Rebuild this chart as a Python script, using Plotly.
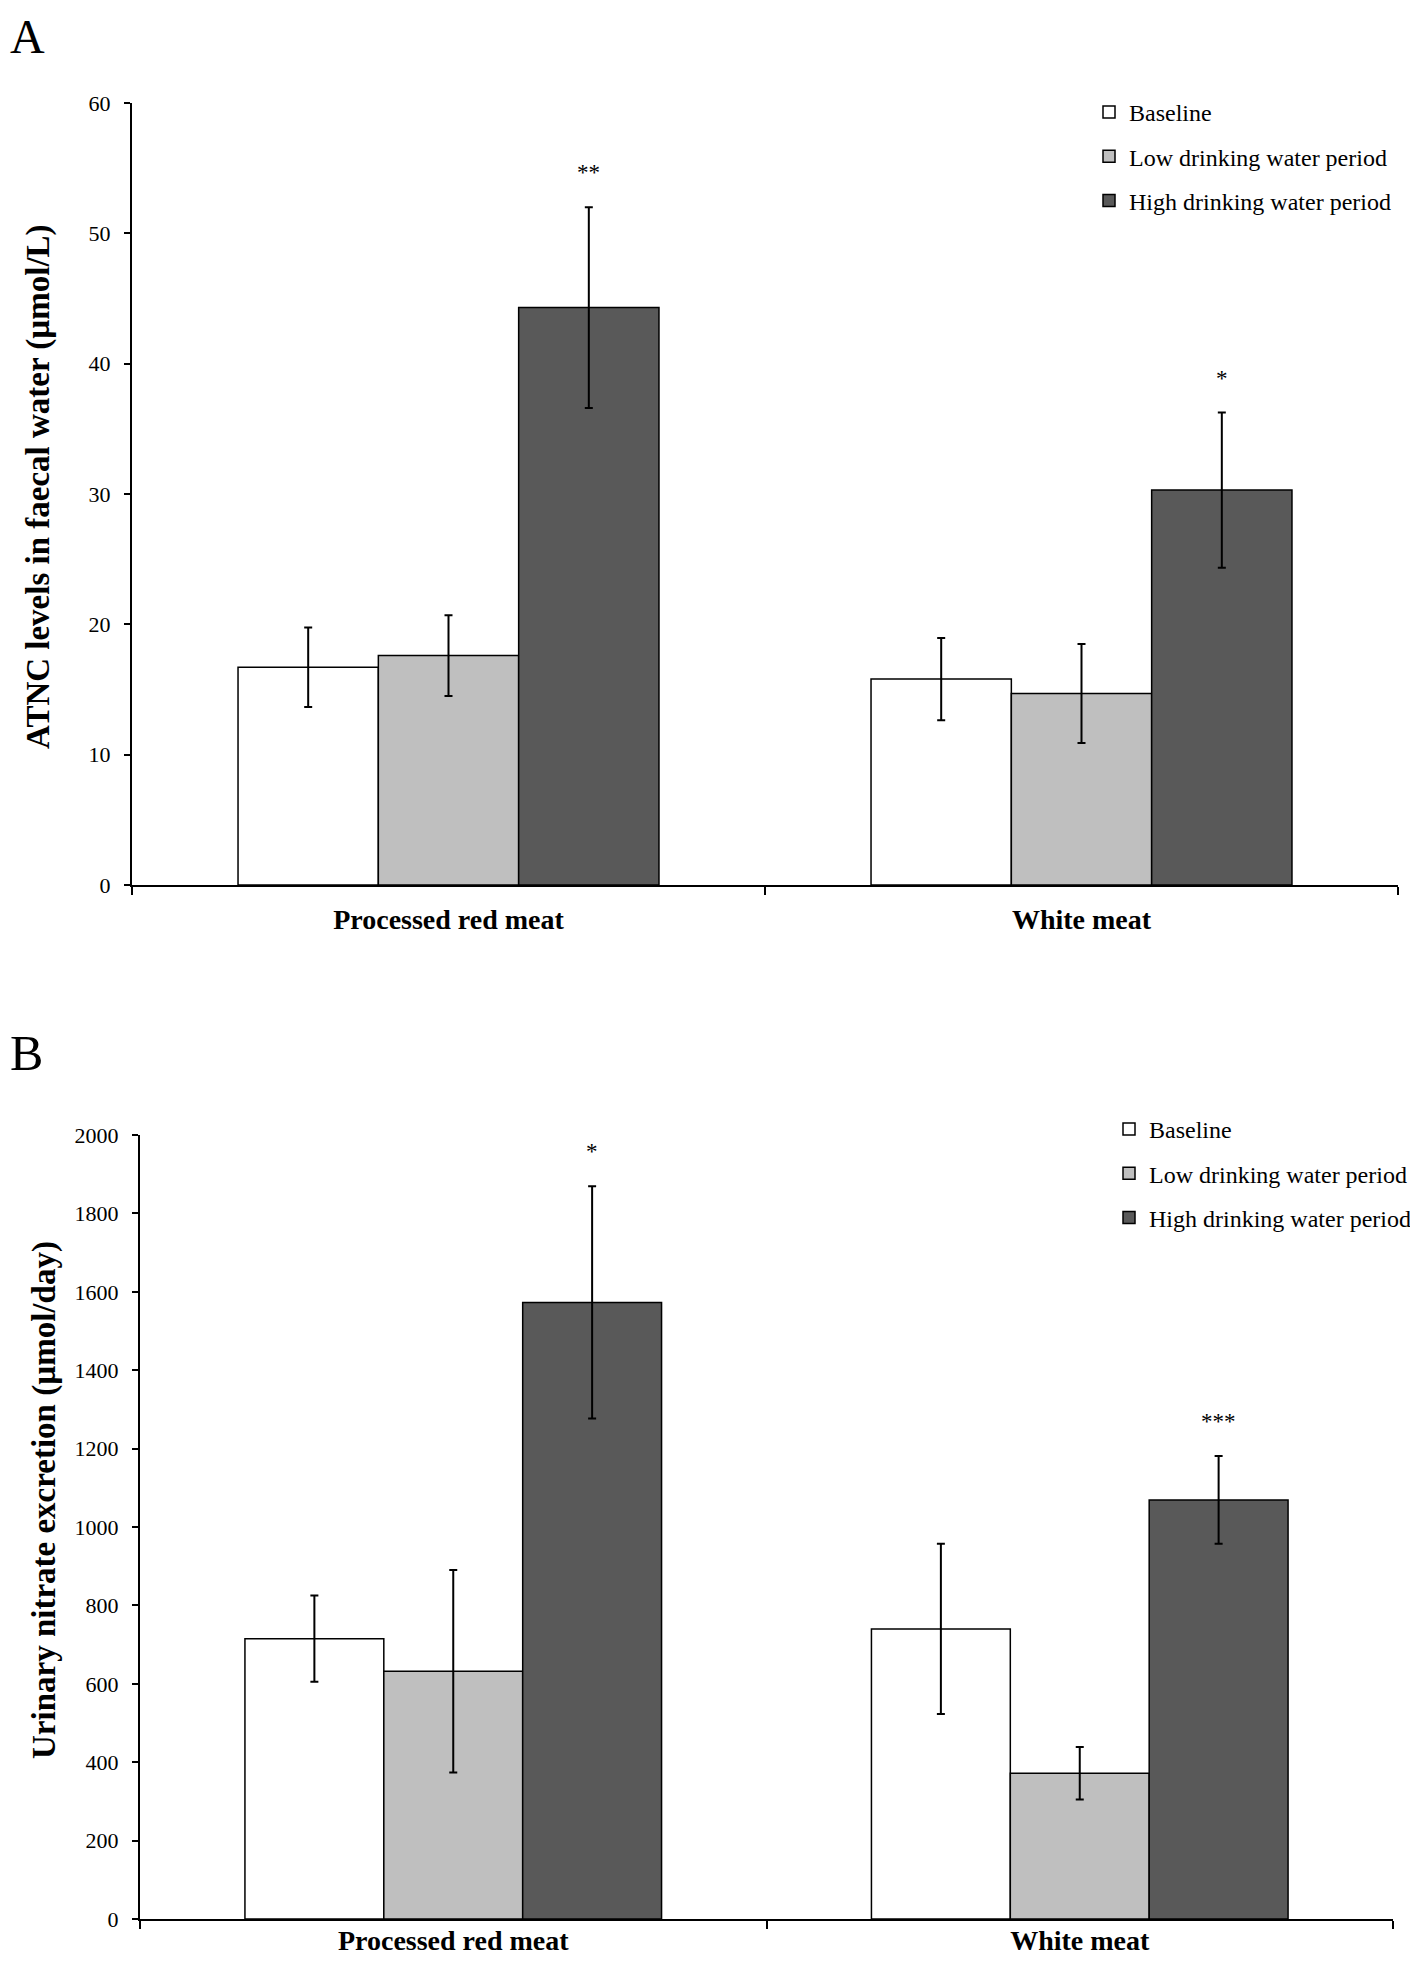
import plotly.graph_objects as go

# ---------------- data ----------------
categories = ["Processed red meat", "White meat"]
series_names = ["Baseline", "Low drinking water period", "High drinking water period"]
series_colors = ["#ffffff", "#bfbfbf", "#595959"]

# Panel A: ATNC levels in faecal water (umol/L)
a_baseline = [16.7, 15.8]
a_low = [17.6, 14.7]
a_high = [44.3, 30.3]
a_baseline_err = [3.05, 3.15]
a_low_err = [3.1, 3.8]
a_high_err = [7.7, 5.95]
a_sig = ["**", "*"]  # significance labels on high-water bars

# Panel B: urinary nitrate excretion (umol/day)
b_baseline = [715, 740]
b_low = [632, 372]
b_high = [1573, 1069]
b_baseline_err = [110, 217]
b_low_err = [258, 67]
b_high_err = [296, 112]
b_sig = ["*", "***"]

a_ticks = [0, 10, 20, 30, 40, 50, 60]
b_ticks = [0, 200, 400, 600, 800, 1000, 1200, 1400, 1600, 1800, 2000]

# page is 1418x1966; the html body keeps an 8px margin, so the figure is shrunk by it
PAGE_W, PAGE_H = 1418, 1966
OFF = 8
W, H = PAGE_W - 2 * OFF, PAGE_H - 2 * OFF
SERIF = "Liberation Serif, Times New Roman, serif"


def px(x):
    return (x - OFF) / W


def py(y):
    return 1 - (y - OFF) / H


fig = go.Figure()

panels = [
    dict(vals=[a_baseline, a_low, a_high], errs=[a_baseline_err, a_low_err, a_high_err],
         sig=a_sig, xa="x", ya="y", legend="legend"),
    dict(vals=[b_baseline, b_low, b_high], errs=[b_baseline_err, b_low_err, b_high_err],
         sig=b_sig, xa="x2", ya="y2", legend="legend2"),
]

for pi, p in enumerate(panels):
    for si in range(3):
        fig.add_trace(go.Bar(
            x=categories, y=p["vals"][si], name=series_names[si],
            marker=dict(color=series_colors[si], line=dict(color="black", width=1.5)),
            error_y=dict(type="data", array=p["errs"][si], visible=True,
                         color="black", thickness=2, width=4),
            xaxis=p["xa"], yaxis=p["ya"], legend=p["legend"],
            legendgroup=f"p{pi}s{si}", showlegend=True,
        ))

bargap = 0.335
bar_w = (1 - bargap) / 3
annotations = []
for p in panels:
    for ci, lab in enumerate(p["sig"]):
        top = p["vals"][2][ci] + p["errs"][2][ci]
        annotations.append(dict(
            x=ci + bar_w, y=top, xref=p["xa"], yref=p["ya"], text=lab,
            showarrow=False, yanchor="bottom", yshift=20,
            font=dict(family=SERIF, size=23, color="black")))

# y-axis titles
annotations.append(dict(x=px(38), y=py(487), xref="paper", yref="paper",
                        xanchor="center", yanchor="middle",
                        text="<b>ATNC levels in faecal water (µmol/L)</b>", textangle=-90,
                        showarrow=False, font=dict(family=SERIF, size=33, color="black")))
annotations.append(dict(x=px(44), y=py(1500), xref="paper", yref="paper",
                        xanchor="center", yanchor="middle",
                        text="<b>Urinary nitrate excretion (µmol/day)</b>", textangle=-90,
                        showarrow=False, font=dict(family=SERIF, size=33, color="black")))
# panel letters
annotations.append(dict(x=px(8), y=py(8), xref="paper", yref="paper", text="A",
                        xanchor="left", yanchor="top", showarrow=False,
                        font=dict(family=SERIF, size=48, color="black")))
annotations.append(dict(x=px(8), y=py(1023), xref="paper", yref="paper", text="B",
                        xanchor="left", yanchor="top", showarrow=False,
                        font=dict(family=SERIF, size=50, color="black")))

xaxis_common = dict(
    type="category", tickson="boundaries", ticks="outside", ticklen=8, tickwidth=2,
    tickcolor="black", showline=True, linecolor="black", linewidth=2, showgrid=False,
    zeroline=False, range=[-0.5, 1.5], automargin=False,
    tickfont=dict(family=SERIF, size=28, color="black"),
)
yaxis_common = dict(
    ticks="outside", ticklen=6, tickwidth=2, tickcolor="black", showline=True,
    linecolor="black", linewidth=2, showgrid=False, zeroline=False, automargin=False,
    tickfont=dict(family=SERIF, size=22, color="black"), ticklabelstandoff=9,
)

legend_common = dict(
    xanchor="left", yanchor="top", font=dict(family=SERIF, size=24, color="black"),
    tracegroupgap=10, itemwidth=30, bgcolor="rgba(0,0,0,0)", traceorder="grouped",
)

fig.update_layout(
    width=W, height=H, margin=dict(l=0, r=0, t=0, b=0, autoexpand=False),
    template="none",
    paper_bgcolor="white", plot_bgcolor="white",
    barmode="group", bargap=bargap, bargroupgap=0,
    xaxis=dict(xaxis_common, domain=[px(132), px(1398)], anchor="y", ticklabelstandoff=8,
               ticktext=[f"<b>{c}</b>" for c in categories], tickvals=categories),
    yaxis=dict(yaxis_common, domain=[py(885), py(103)], anchor="x",
               range=[0, 60], tickvals=a_ticks),
    xaxis2=dict(xaxis_common, domain=[px(140), px(1393)], anchor="y2", ticklabelstandoff=-5,
                ticktext=[f"<b>{c}</b>" for c in categories], tickvals=categories),
    yaxis2=dict(yaxis_common, domain=[py(1919), py(1135)], anchor="x2",
                range=[0, 2000], tickvals=b_ticks),
    legend=dict(legend_common, x=px(1089), y=py(90)),
    legend2=dict(legend_common, x=px(1109), y=py(1107)),
    annotations=annotations,
    showlegend=True,
)

fig.write_html("out.html")
